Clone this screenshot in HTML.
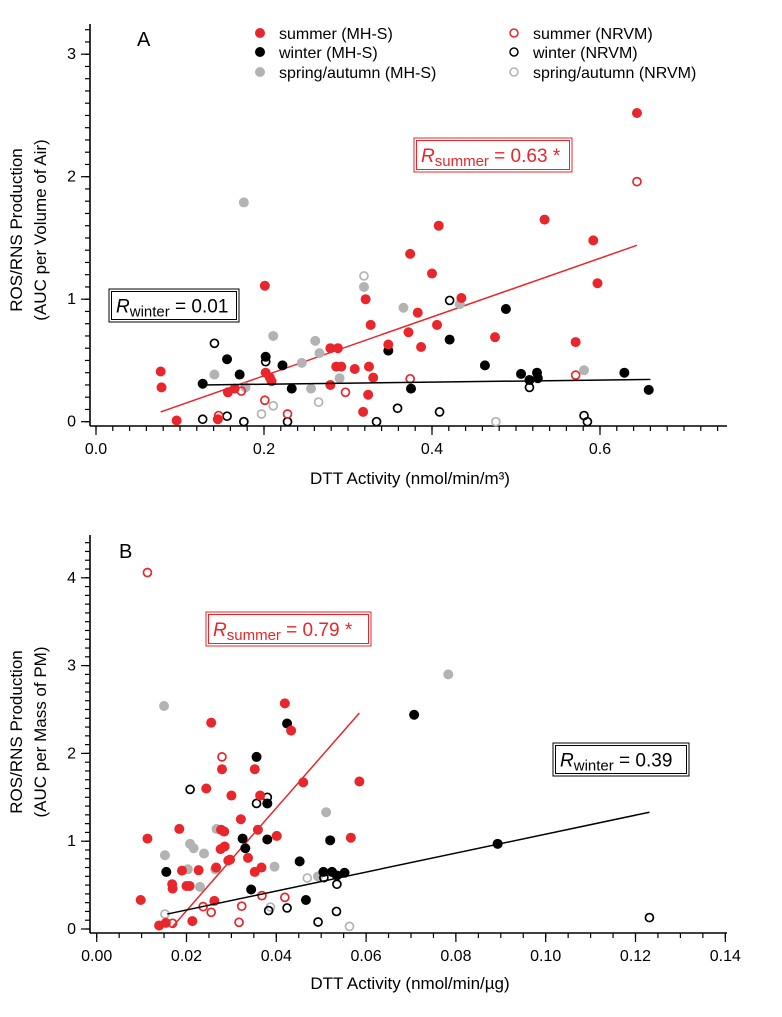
<!DOCTYPE html>
<html><head><meta charset="utf-8"><style>
html,body{margin:0;padding:0;background:#fff;}
svg{display:block;font-family:"Liberation Sans",Arial,sans-serif;}
</style></head><body>
<svg id="fig" width="782" height="1017" viewBox="0 0 782 1017">
<g id="panelA"></g>
<g id="panelB"></g>
<g font-family="Liberation Sans, Arial, sans-serif">
<text x="137" y="46" font-size="20">A</text>
<text x="119" y="558" font-size="20">B</text>
<text transform="translate(22,230) rotate(-90)" text-anchor="middle" font-size="17">ROS/RNS Production</text>
<text transform="translate(46,230) rotate(-90)" text-anchor="middle" font-size="17">(AUC per Volume of Air)</text>
<text transform="translate(22,732) rotate(-90)" text-anchor="middle" font-size="17">ROS/RNS Production</text>
<text transform="translate(46,732) rotate(-90)" text-anchor="middle" font-size="17">(AUC per Mass of PM)</text>
<text x="410" y="484" text-anchor="middle" font-size="17">DTT Activity (nmol/min/m³)</text>
<text x="410" y="989" text-anchor="middle" font-size="17">DTT Activity (nmol/min/µg)</text>
</g>
</svg>
<script>
// ---------- Panel A data ----------
const aSummerX=[0.644,0.534,0.408,0.592,0.374,0.400,0.597,0.201,0.321,0.435,0.383,0.327,0.406,0.372,0.475,0.348,0.571,0.279,0.288,0.387,0.077,0.286,0.292,0.308,0.325,0.202,0.207,0.209,0.330,0.078,0.279,0.165,0.157,0.324,0.318,0.096,0.145];
const aSummerY=[2.52,1.65,1.60,1.48,1.37,1.21,1.13,1.11,1.00,1.01,0.89,0.79,0.79,0.73,0.69,0.63,0.65,0.60,0.60,0.61,0.41,0.45,0.45,0.43,0.45,0.40,0.36,0.33,0.36,0.28,0.30,0.27,0.24,0.22,0.08,0.01,0.02];
const aSummerNX=[0.644,0.374,0.571,0.173,0.297,0.201,0.228,0.146];
const aSummerNY=[1.96,0.35,0.38,0.25,0.24,0.175,0.063,0.05];
const aWinterX=[0.127,0.156,0.171,0.202,0.222,0.233,0.348,0.375,0.421,0.463,0.488,0.506,0.525,0.526,0.516,0.629,0.658];
const aWinterY=[0.31,0.51,0.385,0.53,0.46,0.27,0.58,0.27,0.67,0.46,0.92,0.39,0.40,0.355,0.34,0.40,0.26];
const aWinterNX=[0.141,0.202,0.421,0.516,0.127,0.156,0.176,0.228,0.334,0.359,0.409,0.581,0.585];
const aWinterNY=[0.64,0.49,0.99,0.28,0.02,0.045,0.0,0.0,0.0,0.11,0.08,0.05,0.0];
const aSpringX=[0.176,0.319,0.366,0.433,0.211,0.261,0.266,0.245,0.141,0.290,0.256,0.178,0.581];
const aSpringY=[1.79,1.10,0.93,0.96,0.70,0.66,0.56,0.48,0.385,0.355,0.27,0.28,0.42];
const aSpringNX=[0.319,0.211,0.265,0.197,0.476];
const aSpringNY=[1.19,0.13,0.16,0.063,0.0];
const aFitSummerX=[0.077,0.644], aFitSummerY=[0.08,1.44];
const aFitWinterX=[0.127,0.660], aFitWinterY=[0.30,0.345];
const aXTicks=[0.0,0.2,0.4,0.6], aXTickLabels=["0.0","0.2","0.4","0.6"];
const aYTicks=[0,1,2,3], aYTickLabels=["0","1","2","3"];
// ---------- Panel B data ----------
const bSummerX=[0.0419,0.0255,0.0433,0.0279,0.0352,0.0244,0.0460,0.0585,0.0300,0.0364,0.0321,0.0184,0.0277,0.0284,0.0359,0.0401,0.0113,0.0566,0.0276,0.0285,0.0293,0.0297,0.0337,0.0190,0.0227,0.0266,0.0352,0.0367,0.0168,0.0169,0.0200,0.0207,0.0098,0.0262,0.0139,0.0154,0.0213];
const bSummerY=[2.57,2.35,2.26,1.82,1.82,1.60,1.67,1.68,1.52,1.52,1.25,1.14,1.13,1.11,1.13,1.06,1.03,1.04,0.91,0.94,0.78,0.79,0.81,0.665,0.67,0.70,0.65,0.70,0.51,0.46,0.49,0.49,0.33,0.32,0.04,0.07,0.09];
const bSummerNX=[0.0113,0.0279,0.0368,0.0419,0.0323,0.0237,0.0255,0.0317,0.0169];
const bSummerNY=[4.06,1.96,0.38,0.36,0.26,0.255,0.19,0.076,0.065];
const bWinterX=[0.0424,0.0707,0.0356,0.0380,0.0325,0.0331,0.0380,0.0520,0.0452,0.0155,0.0505,0.0524,0.0535,0.0552,0.0893,0.0344,0.0466];
const bWinterY=[2.34,2.44,1.96,1.43,1.03,0.92,1.02,1.01,0.77,0.65,0.65,0.65,0.61,0.64,0.97,0.45,0.33];
const bWinterNX=[0.0208,0.0356,0.0380,0.0506,0.0535,0.0383,0.0424,0.0534,0.0493,0.1231];
const bWinterNY=[1.59,1.43,1.50,0.585,0.51,0.21,0.24,0.20,0.08,0.13];
const bSpringX=[0.0783,0.0150,0.0511,0.0267,0.0208,0.0216,0.0152,0.0239,0.0396,0.0203,0.0264,0.0230,0.0493];
const bSpringY=[2.90,2.54,1.33,1.14,0.97,0.92,0.84,0.86,0.71,0.68,0.68,0.48,0.60];
const bSpringNX=[0.0152,0.0469,0.0387,0.0563];
const bSpringNY=[0.17,0.58,0.25,0.03];
const bFitSummerX=[0.0169,0.0585], bFitSummerY=[0.027,2.46];
const bFitWinterX=[0.0157,0.1231], bFitWinterY=[0.17,1.33];
const bXTicks=[0,0.02,0.04,0.06,0.08,0.10,0.12,0.14], bXTickLabels=["0.00","0.02","0.04","0.06","0.08","0.10","0.12","0.14"];
const bYTicks=[0,1,2,3,4], bYTickLabels=["0","1","2","3","4"];

const NS="http://www.w3.org/2000/svg";
const RED="#e8262b", GREY="#b3b3b3";
function mk(parent,tag,attrs,text){const e=document.createElementNS(NS,tag);for(const k in attrs)e.setAttribute(k,attrs[k]);if(text!==undefined)e.textContent=text;parent.appendChild(e);return e;}

function panel(g,cfg){
  const sx=v=>cfg.x0+v*cfg.xk, sy=v=>cfg.y0-v*cfg.yk;
  const ax=mk(g,'line',{x1:90,y1:cfg.axisY,x2:727,y2:cfg.axisY,stroke:'#000','stroke-width':1.6});
  
  
  const ay=mk(g,'line',{x1:90,y1:cfg.top,x2:90,y2:cfg.axisY,stroke:'#000','stroke-width':1.6});
  
  
  for(let v=0;sx(v)<=727.5;v+=cfg.xMinor){const x=sx(v);mk(g,'line',{x1:x,y1:cfg.axisY,x2:x,y2:cfg.axisY+5,stroke:'#000','stroke-width':1.2});}
  cfg.xTicks.forEach((v,i)=>{const x=sx(v);mk(g,'line',{x1:x,y1:cfg.axisY,x2:x,y2:cfg.axisY+9,stroke:'#000','stroke-width':1.2});
    const t=mk(g,'text',{x:x,y:cfg.axisY+28,'text-anchor':'middle','font-size':16},cfg.xLabels[i]);
    
    });
  for(let v=0;sy(v)>=cfg.top-0.5;v+=cfg.yMinor){const y=sy(v);mk(g,'line',{x1:90,y1:y,x2:85,y2:y,stroke:'#000','stroke-width':1.2});}
  cfg.yTicks.forEach((v,i)=>{const y=sy(v);mk(g,'line',{x1:90,y1:y,x2:81,y2:y,stroke:'#000','stroke-width':1.2});
    const t=mk(g,'text',{x:76,y:y+5,'text-anchor':'end','font-size':16},cfg.yLabels[i]);
    
    });
  const fs=mk(g,'line',{x1:sx(cfg.fsx[0]),y1:sy(cfg.fsy[0]),x2:sx(cfg.fsx[1]),y2:sy(cfg.fsy[1]),stroke:RED,'stroke-width':1.5});
  
  
  const series=[[cfg.spX,cfg.spY,GREY,true,'spring-mhs-point'],[cfg.spNX,cfg.spNY,GREY,false,'spring-nrvm-point'],
    [cfg.wX,cfg.wY,'#000',true,'winter-mhs-point'],[cfg.wNX,cfg.wNY,'#000',false,'winter-nrvm-point'],
    [cfg.sX,cfg.sY,RED,true,'summer-mhs-point'],[cfg.sNX,cfg.sNY,RED,false,'summer-nrvm-point']];
  series.forEach(([xs,ys,c,fill,name])=>{xs.forEach((v,i)=>{
    const p=fill?mk(g,'circle',{cx:sx(v),cy:sy(ys[i]),r:5,fill:c}):mk(g,'circle',{cx:sx(v),cy:sy(ys[i]),r:4,fill:'none',stroke:c,'stroke-width':1.7});
    
    });});
  const fw=mk(g,'line',{x1:sx(cfg.fwx[0]),y1:sy(cfg.fwy[0]),x2:sx(cfg.fwx[1]),y2:sy(cfg.fwy[1]),stroke:'#000','stroke-width':1.5});
  
  
}
function rbox(g,x,y,w,h,color,sub,val,name){
  const b=mk(g,'g',{});
  
  
  mk(b,'rect',{x:x,y:y,width:w,height:h,fill:'#fff',stroke:color,'stroke-width':1});
  mk(b,'rect',{x:x+2.5,y:y+2.5,width:w-5,height:h-5,fill:'none',stroke:color,'stroke-width':1});
  const t=mk(b,'text',{x:x+7,y:y+h/2+7,'font-size':19,fill:color});
  mk(t,'tspan',{'font-style':'italic'},'R');
  mk(t,'tspan',{'font-size':15,dy:4},sub);
  mk(t,'tspan',{dy:-4},' = '+val);
}
const gA=document.getElementById('panelA'), gB=document.getElementById('panelB');
panel(gA,{x0:96,xk:840,y0:421.7,yk:122.5,axisY:426,top:24,xMinor:0.02,yMinor:0.1,xTicks:aXTicks,xLabels:aXTickLabels,yTicks:aYTicks,yLabels:aYTickLabels,
 sX:aSummerX,sY:aSummerY,sNX:aSummerNX,sNY:aSummerNY,wX:aWinterX,wY:aWinterY,wNX:aWinterNX,wNY:aWinterNY,spX:aSpringX,spY:aSpringY,spNX:aSpringNX,spNY:aSpringNY,
 fsx:aFitSummerX,fsy:aFitSummerY,fwx:aFitWinterX,fwy:aFitWinterY});
panel(gB,{x0:96.7,xk:4490,y0:929,yk:87.8,axisY:933,top:535,xMinor:0.005,yMinor:0.1,xTicks:bXTicks,xLabels:bXTickLabels,yTicks:bYTicks,yLabels:bYTickLabels,
 sX:bSummerX,sY:bSummerY,sNX:bSummerNX,sNY:bSummerNY,wX:bWinterX,wY:bWinterY,wNX:bWinterNX,wNY:bWinterNY,spX:bSpringX,spY:bSpringY,spNX:bSpringNX,spNY:bSpringNY,
 fsx:bFitSummerX,fsy:bFitSummerY,fwx:bFitWinterX,fwy:bFitWinterY});
rbox(gA,414,138,158,34,RED,'summer','0.63 *','r-summer-box-a');
rbox(gA,109,289,130,33,'#000','winter','0.01','r-winter-box-a');
rbox(gB,206,612,165,34,RED,'summer','0.79 *','r-summer-box-b');
rbox(gB,553,743,136,33,'#000','winter','0.39','r-winter-box-b');
const leg=mk(gA,'g',{});


[[260,33,RED,true,'summer (MH-S)'],[260,52,'#000',true,'winter (MH-S)'],[260,72,GREY,true,'spring/autumn (MH-S)'],
 [514,33,RED,false,'summer (NRVM)'],[514,52,'#000',false,'winter (NRVM)'],[514,72,GREY,false,'spring/autumn (NRVM)']].forEach(([x,y,c,f,l])=>{
  const e=mk(leg,'g',{});
  
  
  if(f) mk(e,'circle',{cx:x,cy:y,r:5,fill:c}); else mk(e,'circle',{cx:x,cy:y,r:4,fill:'none',stroke:c,'stroke-width':1.5});
  mk(e,'text',{x:x+19,y:y+6,'font-size':16},l);
});
</script>
</body></html>
